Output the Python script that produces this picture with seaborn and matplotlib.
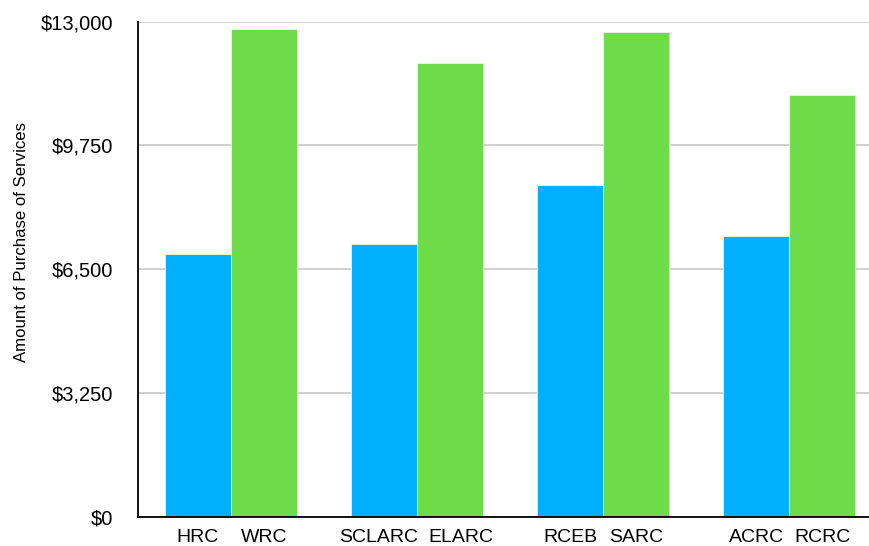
import pandas as pd
import matplotlib
matplotlib.use("Agg")
import matplotlib.pyplot as plt
import matplotlib.transforms as mtrans
import seaborn as sns

groups = ["G1", "G2", "G3", "G4"]
first_labels = ["HRC", "SCLARC", "RCEB", "ACRC"]
second_labels = ["WRC", "ELARC", "SARC", "RCRC"]
first_values = [6900, 7170, 8700, 7370]
second_values = [12800, 11920, 12725, 11070]
yticks = [0, 3250, 6500, 9750, 13000]

df = pd.DataFrame({
    "group": groups * 2,
    "series": ["first"] * 4 + ["second"] * 4,
    "amount": first_values + second_values,
})

sns.set_style("white")
plt.rcParams["font.family"] = ["Liberation Sans", "DejaVu Sans"]
plt.rcParams["text.color"] = "black"
plt.rcParams["axes.labelcolor"] = "black"
plt.rcParams["xtick.color"] = "black"
plt.rcParams["ytick.color"] = "black"

fig = plt.figure(figsize=(8.7, 5.46), dpi=100)
ax = fig.add_axes([138 / 870, 29 / 546, 732 / 870, 495.5 / 546])

ax.set_axisbelow(True)
ax.yaxis.grid(True, color="#c8c8c8", linewidth=1.2)

bar_w = 0.71
sns.barplot(data=df, x="group", y="amount", hue="series",
            palette=["#00B0FF", "#6EDB48"], saturation=1, width=bar_w,
            edgecolor="#e8f8e0", linewidth=0.6, legend=False, ax=ax)

ax.set_xlim(-0.5, 3.435)
ax.set_ylim(0, 13000)
ax.set_yticks(yticks)
ax.set_yticklabels([f"${v:,}" for v in yticks], fontsize=14.5)

pos = []
labs = []
for i in range(len(groups)):
    pos += [i - bar_w / 4, i + bar_w / 4]
    labs += [first_labels[i], second_labels[i]]
ax.set_xticks(pos)
ax.set_xticklabels(labs, fontsize=14)
ax.tick_params(axis="x", length=0, pad=8.5)
ax.tick_params(axis="y", length=0, pad=18)

# nudge the two long labels apart so they don't collide
shift = {"SCLARC": -5, "ELARC": 11}
for t in ax.get_xticklabels():
    dx = shift.get(t.get_text(), 0)
    if dx:
        t.set_transform(t.get_transform() +
                        mtrans.ScaledTranslation(dx / 100, 0, fig.dpi_scale_trans))

ax.set_xlabel("")
ax.set_ylabel("Amount of Purchase of Services", fontsize=12.1)
ax.yaxis.set_label_coords(-109 / 732, 0.555)

for s in ["top", "right"]:
    ax.spines[s].set_visible(False)
for s in ["left", "bottom"]:
    ax.spines[s].set_color("black")
    ax.spines[s].set_linewidth(1.3)

fig.savefig("out.png", dpi=100)
